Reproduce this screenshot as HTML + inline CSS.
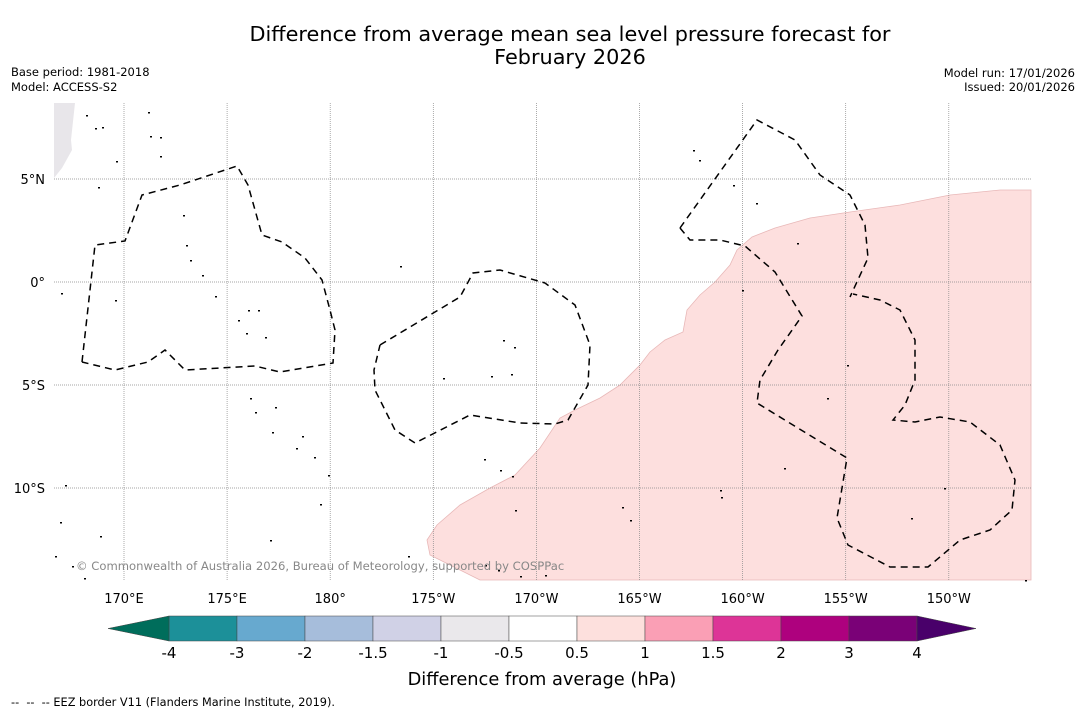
<!DOCTYPE html>
<html><head><meta charset="utf-8"><style>
body{margin:0;background:#fff;font-family:"DejaVu Sans","Liberation Sans",sans-serif;}
svg text{font-family:"DejaVu Sans","Liberation Sans",sans-serif;}
</style></head><body>
<svg id="chart" width="1085" height="713" viewBox="0 0 1085 713" xmlns="http://www.w3.org/2000/svg">
<rect width="1085" height="713" fill="#fff"/>
<text x="570" y="41" font-size="20.8" text-anchor="middle">Difference from average mean sea level pressure forecast for</text>
<text x="570" y="64" font-size="20.8" text-anchor="middle">February 2026</text>
<text x="11" y="76" font-size="11.5">Base period: 1981-2018</text>
<text x="11" y="91" font-size="11.5">Model: ACCESS-S2</text>
<text x="1075" y="77" font-size="11.5" text-anchor="end">Model run: 17/01/2026</text>
<text x="1075" y="91" font-size="11.5" text-anchor="end">Issued: 20/01/2026</text>
<g id="map">
<polygon fill="#fddfde" stroke="#e8b8b8" stroke-width="0.8" points="480,580 430,555 427,540 437,525 460,505 490,488 515,475 540,448 560,418 575,410 600,398 620,385 640,365 650,352 665,340 683,332 687,310 700,295 715,282 730,265 737,250 752,237 775,228 810,218 850,212 900,205 950,195 1000,190 1031,190 1031,580"/>
<polygon fill="#e8e6ea" points="54,103 75,103 71,140 72,150 62,168 54,178"/>
<g id="grid"></g>
<g fill="none" stroke="#000" stroke-width="1.5" stroke-dasharray="7,5">
<polyline points="82,362 95,245 125,241 142,195 180,185 237,166 248,185 262,235 282,242 305,258 322,280 330,310 335,330 333,363 280,372 255,366 185,370 165,350 148,362 115,370 82,362"/>
<polyline points="380,345 460,297 473,273 500,270 545,283 575,305 590,345 588,385 568,420 555,424 520,423 470,415 415,443 395,430 375,390 374,370 380,345"/>
<polyline points="680,228 757,120 795,140 820,175 850,195 865,225 868,258 850,297"/>
<polyline points="680,228 690,240 720,240 745,246 775,272 802,316 778,350 760,380 757,403 847,458 837,518 848,545 890,567 928,567 960,540 990,530 1012,510 1015,480 1000,445 970,422 940,417 915,422 893,420 905,405 915,380 915,340 900,310 880,300 853,294"/>
</g>
<g id="islands" fill="#000"></g>
<text x="76" y="570" font-size="11.6" fill="#888">© Commonwealth of Australia 2026, Bureau of Meteorology, supported by COSPPac</text>
</g>
<g id="axes"></g>
<g id="cbar"></g>
<text x="542" y="685" font-size="17.8" text-anchor="middle">Difference from average (hPa)</text>
<text x="11" y="706" font-size="11.3" xml:space="preserve">--  --  -- EEZ border V11 (Flanders Marine Institute, 2019).</text>
</svg>
<script>
const lonTicks=[170,175,180,-175,-170,-165,-160,-155,-150];
const lonLabels=["170°E","175°E","180°","175°W","170°W","165°W","160°W","155°W","150°W"];
const latTicks=[5,0,-5,-10];
const latLabels=["5°N","0°","5°S","10°S"];
const cbLevels=["-4","-3","-2","-1.5","-1","-0.5","0.5","1","1.5","2","3","4"];
const cbColors=["#1c9099","#67a9cf","#a6bddb","#d0d1e6","#eae8eb","#ffffff","#fde0dd","#fa9fb5","#dd3497","#ae017e","#7a0177"];
const cbUnder="#006d5b", cbOver="#49006a";
const islands=[[86,115],[95,128],[102,127],[116,161],[98,187],[148,112],[150,136],[160,137],[160,156],[183,215],[186,245],[190,260],[202,275],[215,296],[238,320],[248,310],[258,310],[265,337],[246,333],[61,293],[115,300],[400,266],[503,340],[514,347],[443,378],[491,376],[511,374],[250,398],[255,412],[275,407],[272,432],[302,436],[296,448],[314,457],[328,475],[320,504],[65,485],[60,522],[100,536],[270,540],[55,556],[72,566],[84,578],[408,556],[485,565],[498,570],[520,576],[545,575],[484,459],[500,470],[512,476],[515,510],[622,507],[630,520],[693,150],[699,160],[733,185],[756,203],[797,243],[742,290],[847,365],[827,398],[784,468],[720,490],[721,497],[911,518],[944,488],[1025,580]];
const svgNS="http://www.w3.org/2000/svg";
const x0=54,x1=1031,y0=103,y1=580;
function lonX(l){let e=l<0?360+l:l;return 124+(e-170)*20.62;}
function latY(l){return 282-l*20.6;}
const grid=document.getElementById('grid'),axes=document.getElementById('axes');
lonTicks.forEach((l,i)=>{const x=lonX(l);
 const ln=document.createElementNS(svgNS,'line');
 
 
 ln.setAttribute('x1',x);ln.setAttribute('x2',x);ln.setAttribute('y1',y0);ln.setAttribute('y2',y1);
 ln.setAttribute('stroke','#888');ln.setAttribute('stroke-width','0.7');ln.setAttribute('stroke-dasharray','1,1');grid.appendChild(ln);
 const t=document.createElementNS(svgNS,'text');
 
 
 t.setAttribute('x',x);t.setAttribute('y',603);t.setAttribute('font-size','13');t.setAttribute('text-anchor','middle');t.textContent=lonLabels[i];axes.appendChild(t);});
latTicks.forEach((l,i)=>{const y=latY(l);
 const ln=document.createElementNS(svgNS,'line');
 
 
 ln.setAttribute('x1',x0);ln.setAttribute('x2',x1);ln.setAttribute('y1',y);ln.setAttribute('y2',y);
 ln.setAttribute('stroke','#888');ln.setAttribute('stroke-width','0.7');ln.setAttribute('stroke-dasharray','1,1');grid.appendChild(ln);
 const t=document.createElementNS(svgNS,'text');
 
 
 t.setAttribute('x',45);t.setAttribute('y',y+5);t.setAttribute('font-size','13');t.setAttribute('text-anchor','end');t.textContent=latLabels[i];axes.appendChild(t);});
const isl=document.getElementById('islands');
islands.forEach(p=>{const r=document.createElementNS(svgNS,'rect');
 
 
 r.setAttribute('x',p[0]);r.setAttribute('y',p[1]);r.setAttribute('width',2);r.setAttribute('height',1.5);isl.appendChild(r);});
const cb=document.getElementById('cbar');
const cbx0=169,cbw=68,cy=616,ch=25;
cbColors.forEach((c,i)=>{const r=document.createElementNS(svgNS,'rect');
 
 
 r.setAttribute('x',cbx0+i*cbw);r.setAttribute('y',cy);r.setAttribute('width',cbw);r.setAttribute('height',ch);
 r.setAttribute('fill',c);r.setAttribute('stroke','#444');r.setAttribute('stroke-width','0.5');cb.appendChild(r);});
const xe=cbx0+cbColors.length*cbw;
const pu=document.createElementNS(svgNS,'polygon');


pu.setAttribute('points',`${cbx0},${cy} ${cbx0},${cy+ch} 108,${cy+ch/2}`);pu.setAttribute('fill',cbUnder);pu.setAttribute('stroke','#444');pu.setAttribute('stroke-width','0.5');cb.appendChild(pu);
const po=document.createElementNS(svgNS,'polygon');


po.setAttribute('points',`${xe},${cy} ${xe},${cy+ch} ${xe+59},${cy+ch/2}`);po.setAttribute('fill',cbOver);po.setAttribute('stroke','#444');po.setAttribute('stroke-width','0.5');cb.appendChild(po);
cbLevels.forEach((lv,i)=>{const t=document.createElementNS(svgNS,'text');
 
 
 t.setAttribute('x',cbx0+i*cbw);t.setAttribute('y',658);t.setAttribute('font-size','15');t.setAttribute('text-anchor','middle');t.textContent=lv;cb.appendChild(t);});
</script>
</body></html>
